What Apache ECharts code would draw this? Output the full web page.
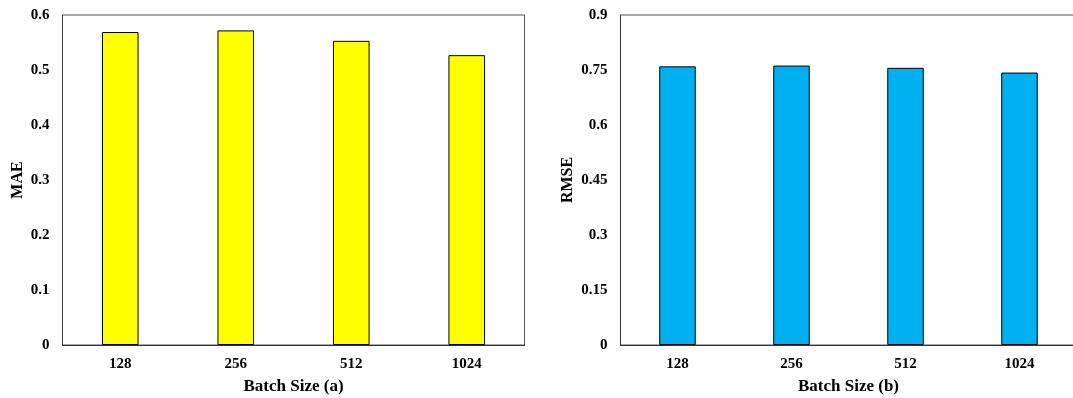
<!DOCTYPE html>
<html><head><meta charset="utf-8">
<script src="https://cdn.jsdelivr.net/npm/echarts@6/dist/echarts.min.js"></script>
<style>html,body{margin:0;padding:0;background:#fff}#c{width:1073px;height:398px}</style>
</head><body><div id="c"></div>
<script>
const categories = ['128', '256', '512', '1024'];
const maeValues = [0.569, 0.572, 0.553, 0.527];
const rmseValues = [0.760, 0.762, 0.756, 0.743];
const maeTicks = { min: 0, max: 0.6, interval: 0.1 };
const rmseTicks = { min: 0, max: 0.9, interval: 0.15 };

const font = 'Liberation Serif';
const tickLabel = { color: '#000', fontFamily: font, fontWeight: 'bold', fontSize: 15 };
function xAxis(idx, name) {
  return {
    type: 'category', gridIndex: idx, data: categories,
    axisTick: { show: false },
    axisLine: { show: true, lineStyle: { color: '#333', width: 1 } },
    axisLabel: Object.assign({ margin: 12 }, tickLabel),
    name: name, nameLocation: 'middle', nameGap: 33,
    nameTextStyle: { color: '#000', fontFamily: font, fontWeight: 'bold', fontSize: 17 }
  };
}
function yAxis(idx, name, t) {
  return {
    type: 'value', gridIndex: idx, min: t.min, max: t.max, interval: t.interval,
    splitLine: { show: false }, axisTick: { show: false },
    axisLine: { show: true, lineStyle: { color: '#333', width: 1 } },
    axisLabel: Object.assign({ margin: 13, formatter: v => String(+v.toFixed(2)) }, tickLabel),
    name: name, nameLocation: 'middle', nameGap: 0,
    nameTextStyle: { color: '#000', fontFamily: font, fontWeight: 'bold', fontSize: 16 }
  };
}
const chart = echarts.init(document.getElementById('c'), null, { renderer: 'canvas' });
chart.setOption({
  animation: false,
  grid: [
    { left: 62.5, top: 15, width: 462, height: 330, containLabel: false, outerBoundsMode: 'none',
      show: true, borderColor: '#555', borderWidth: 1, backgroundColor: 'transparent' },
    { left: 620.5, top: 15, width: 456, height: 330, containLabel: false, outerBoundsMode: 'none',
      show: true, borderColor: '#555', borderWidth: 1, backgroundColor: 'transparent' }
  ],
  xAxis: [xAxis(0, 'Batch Size (a)'), xAxis(1, 'Batch Size (b)')],
  yAxis: [
    Object.assign(yAxis(0, 'MAE', maeTicks), { nameGap: 37 }),
    Object.assign(yAxis(1, 'RMSE', rmseTicks), { nameGap: 45 })
  ],
  series: [
    { type: 'bar', xAxisIndex: 0, yAxisIndex: 0, data: maeValues, barWidth: '31.7%',
      itemStyle: { color: '#FFFF00', borderColor: '#000', borderWidth: 1 } },
    { type: 'bar', xAxisIndex: 1, yAxisIndex: 1, data: rmseValues, barWidth: '32%',
      itemStyle: { color: '#00B0F0', borderColor: '#000', borderWidth: 1 } }
  ]
});
</script></body></html>
